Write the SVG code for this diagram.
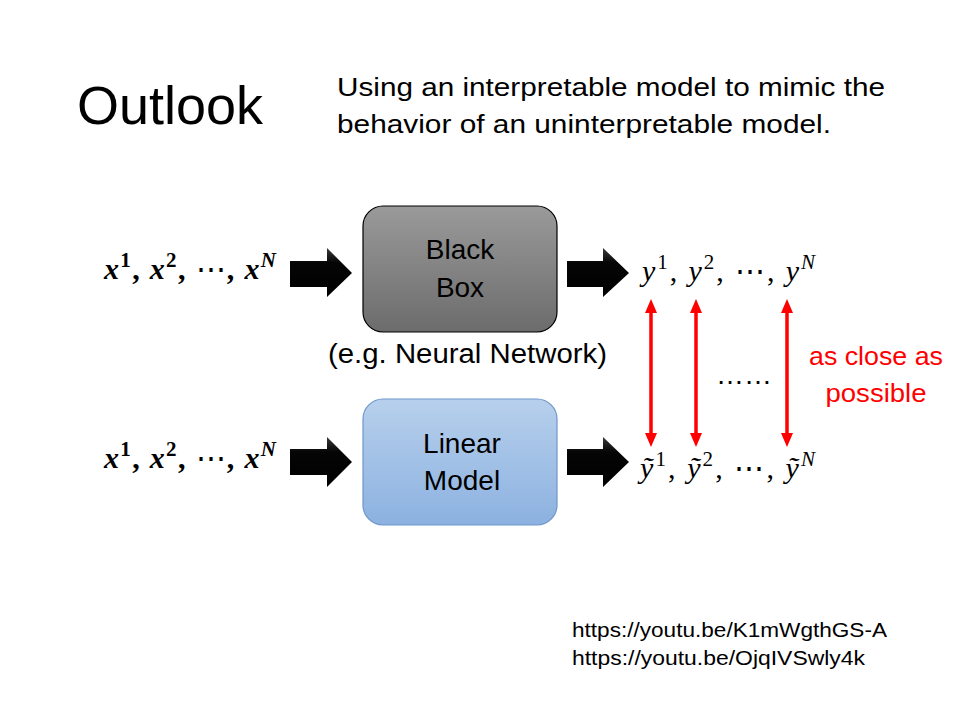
<svg xmlns="http://www.w3.org/2000/svg" width="960" height="720" viewBox="0 0 960 720">
<defs>
<style>
.t{font-family:"Liberation Sans",Arial,sans-serif;fill:#000}
.c{text-anchor:middle;font-size:28px}
.mb{font-family:"Liberation Serif","DejaVu Serif",serif;font-style:italic;font-weight:bold;font-size:30px;fill:#000}
.mi{font-family:"Liberation Serif","DejaVu Serif",serif;font-style:italic;font-size:30px;fill:#000}
.sup{font-style:normal;font-size:21px}
.supi{font-style:italic;font-size:21px}
.up{font-style:normal}
.dots{font-style:normal;font-weight:normal}
.red{fill:#ff0000}
.blk{fill:url(#arrowGrad)}
.dbl{stroke:#ff0000;stroke-width:3.5;fill:none;marker-start:url(#rh);marker-end:url(#rh)}
</style>
<linearGradient id="gBlack" x1="0" y1="0" x2="0" y2="1">
<stop offset="0" stop-color="#9a9a9a"/>
<stop offset="1" stop-color="#6c6c6c"/>
</linearGradient>
<linearGradient id="gBlue" x1="0" y1="0" x2="0" y2="1">
<stop offset="0" stop-color="#b7d0ec"/>
<stop offset="1" stop-color="#8cb1e0"/>
</linearGradient>
<linearGradient id="arrowGrad" x1="0" y1="0" x2="0" y2="1">
<stop offset="0" stop-color="#3a3a3a"/>
<stop offset="0.3" stop-color="#050505"/>
<stop offset="1" stop-color="#000"/>
</linearGradient>
<marker id="rh" viewBox="0 0 14 12" refX="0" refY="6" markerWidth="14" markerHeight="12" markerUnits="userSpaceOnUse" orient="auto-start-reverse">
<path d="M0,0 L14,6 L0,12 Z" fill="#ff0000"/>
</marker>
</defs>
<rect width="960" height="720" fill="#fff"/>

<g id="title">
<text class="t" x="77" y="124" font-size="53" font-family="'Open Sans','Liberation Sans',sans-serif" font-weight="300" textLength="186" lengthAdjust="spacingAndGlyphs">Outlook</text>
</g>
<g id="subtitle">
<text class="t" x="337" y="96" font-size="26" textLength="548" lengthAdjust="spacingAndGlyphs">Using an interpretable model to mimic the</text>
<text class="t" x="337" y="133" font-size="26" textLength="494" lengthAdjust="spacingAndGlyphs">behavior of an uninterpretable model.</text>
</g>

<g id="input-top">
<text class="mb" x="104" y="279" textLength="172">x<tspan class="sup" dy="-12">1</tspan><tspan class="up" dy="12">, </tspan>x<tspan class="sup" dy="-12">2</tspan><tspan class="up" dy="12">, </tspan><tspan class="dots">⋯</tspan><tspan class="up">, </tspan>x<tspan class="supi" dy="-12">N</tspan></text>
</g>
<g id="input-bottom">
<text class="mb" x="104" y="468" textLength="172">x<tspan class="sup" dy="-12">1</tspan><tspan class="up" dy="12">, </tspan>x<tspan class="sup" dy="-12">2</tspan><tspan class="up" dy="12">, </tspan><tspan class="dots">⋯</tspan><tspan class="up">, </tspan>x<tspan class="supi" dy="-12">N</tspan></text>
</g>

<g id="black-box">
<rect x="363" y="206" width="194" height="126" rx="20" fill="url(#gBlack)" stroke="#000" stroke-width="1.2"/>
<text class="t c" x="460" y="259">Black</text>
<text class="t c" x="460" y="297">Box</text>
</g>
<g id="black-box-note">
<text class="t" x="328" y="363" font-size="27" textLength="279" lengthAdjust="spacingAndGlyphs">(e.g. Neural Network)</text>
</g>

<g id="linear-model">
<rect x="363" y="399" width="194" height="126" rx="20" fill="url(#gBlue)" stroke="#6f97c9" stroke-width="1.2"/>
<text class="t c" x="462" y="453">Linear</text>
<text class="t c" x="462" y="490">Model</text>
</g>

<g id="output-top">
<text class="mi" x="642" y="281" textLength="173">y<tspan class="sup" dy="-12">1</tspan><tspan class="up" dy="12">, </tspan>y<tspan class="sup" dy="-12">2</tspan><tspan class="up" dy="12">, ⋯, </tspan>y<tspan class="supi" dy="-12">N</tspan></text>
</g>
<g id="output-bottom">
<text class="mi" x="640" y="478" textLength="175">ỹ<tspan class="sup" dy="-12">1</tspan><tspan class="up" dy="12">, </tspan>ỹ<tspan class="sup" dy="-12">2</tspan><tspan class="up" dy="12">, ⋯, </tspan>ỹ<tspan class="supi" dy="-12">N</tspan></text>
</g>

<g id="connectors">
<polygon class="blk" points="290,261 327,261 327,248 352,273 327,297 327,287 290,287"/>
<polygon class="blk" points="567,261 603,261 603,248 629,273 603,297 603,287 567,287"/>
<polygon class="blk" points="290,449 327,449 327,437 352,462 327,487 327,475 290,475"/>
<polygon class="blk" points="567,449 603,449 603,437 629,462 603,487 603,475 567,475"/>
<line class="dbl" x1="651" y1="313" x2="651" y2="433"/>
<line class="dbl" x1="696" y1="313" x2="696" y2="433"/>
<line class="dbl" x1="787" y1="313" x2="787" y2="433"/>
</g>

<g id="ellipsis">
<text class="t" x="716" y="384" font-size="28" textLength="56" lengthAdjust="spacingAndGlyphs">……</text>
</g>
<g id="close-label">
<text class="t red" x="876" y="365" font-size="26" text-anchor="middle" textLength="134" lengthAdjust="spacingAndGlyphs">as close as</text>
<text class="t red" x="876" y="402" font-size="26" text-anchor="middle" textLength="101" lengthAdjust="spacingAndGlyphs">possible</text>
</g>

<g id="links">
<text class="t" x="572" y="637" font-size="20" textLength="315" lengthAdjust="spacingAndGlyphs">https://youtu.be/K1mWgthGS-A</text>
<text class="t" x="572" y="665" font-size="20" textLength="293" lengthAdjust="spacingAndGlyphs">https://youtu.be/OjqIVSwly4k</text>
</g>
</svg>
